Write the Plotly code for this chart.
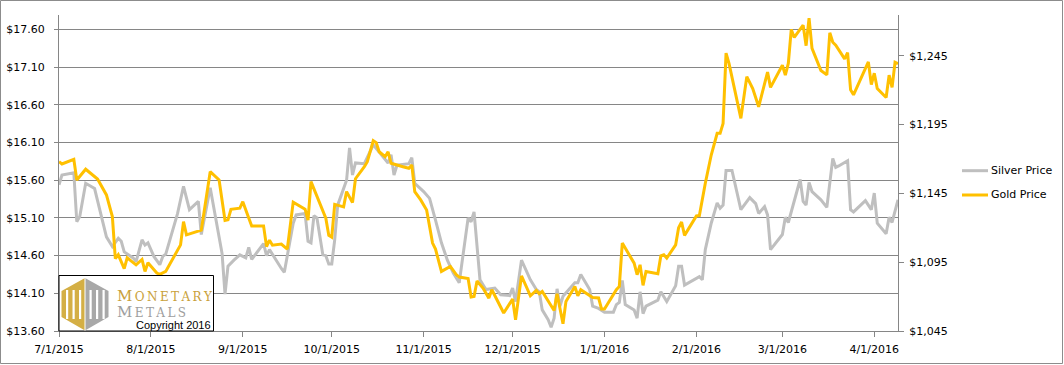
import plotly.graph_objects as go

# ---------------- data ----------------
silver_dates = [
    "2015-07-01", "2015-07-02", "2015-07-06", "2015-07-07", "2015-07-08", "2015-07-10", "2015-07-13",
    "2015-07-14", "2015-07-15", "2015-07-17", "2015-07-19", "2015-07-21", "2015-07-22", "2015-07-23",
    "2015-07-26", "2015-07-27", "2015-07-29", "2015-07-30", "2015-07-31", "2015-08-02", "2015-08-04",
    "2015-08-05", "2015-08-06", "2015-08-10", "2015-08-12", "2015-08-14", "2015-08-17", "2015-08-18",
    "2015-08-21", "2015-08-23", "2015-08-25", "2015-08-26", "2015-08-27", "2015-08-29", "2015-08-31",
    "2015-09-02", "2015-09-03", "2015-09-04", "2015-09-08", "2015-09-09", "2015-09-10", "2015-09-14",
    "2015-09-15", "2015-09-18", "2015-09-19", "2015-09-22", "2015-09-23", "2015-09-24", "2015-09-25",
    "2015-09-26", "2015-09-28", "2015-09-29", "2015-09-30", "2015-10-01", "2015-10-02", "2015-10-03",
    "2015-10-06", "2015-10-07", "2015-10-08", "2015-10-09", "2015-10-12", "2015-10-15", "2015-10-17",
    "2015-10-20", "2015-10-21", "2015-10-22", "2015-10-23", "2015-10-27", "2015-10-28", "2015-10-29",
    "2015-11-01", "2015-11-03", "2015-11-05", "2015-11-07", "2015-11-09", "2015-11-11", "2015-11-13",
    "2015-11-16", "2015-11-17", "2015-11-18", "2015-11-20", "2015-11-22", "2015-11-25", "2015-11-27",
    "2015-11-30", "2015-12-01", "2015-12-02", "2015-12-04", "2015-12-07", "2015-12-09", "2015-12-10",
    "2015-12-11", "2015-12-13", "2015-12-14", "2015-12-15", "2015-12-16", "2015-12-17", "2015-12-18",
    "2015-12-22", "2015-12-23", "2015-12-24", "2015-12-27", "2015-12-28", "2015-12-30", "2016-01-01",
    "2016-01-04", "2016-01-05", "2016-01-06", "2016-01-07", "2016-01-08", "2016-01-11", "2016-01-12",
    "2016-01-13", "2016-01-14", "2016-01-15", "2016-01-19", "2016-01-20", "2016-01-22", "2016-01-25",
    "2016-01-26", "2016-01-27", "2016-01-28", "2016-02-02", "2016-02-03", "2016-02-04", "2016-02-06",
    "2016-02-08", "2016-02-09", "2016-02-10", "2016-02-11", "2016-02-13", "2016-02-16", "2016-02-19",
    "2016-02-21", "2016-02-22", "2016-02-24", "2016-02-25", "2016-02-26", "2016-03-01", "2016-03-02",
    "2016-03-03", "2016-03-05", "2016-03-07", "2016-03-08", "2016-03-09", "2016-03-10", "2016-03-11",
    "2016-03-14", "2016-03-16", "2016-03-18", "2016-03-19", "2016-03-20", "2016-03-23", "2016-03-24",
    "2016-03-25", "2016-03-29", "2016-03-31", "2016-04-01", "2016-04-02", "2016-04-05", "2016-04-06",
    "2016-04-07", "2016-04-09",
]
silver_price = [
    15.54, 15.67, 15.70, 15.05, 15.12, 15.56, 15.49,
    15.34, 15.16, 14.85, 14.72, 14.83, 14.79, 14.65,
    14.57, 14.52, 14.81, 14.74, 14.77, 14.59, 14.48,
    14.59, 14.62, 15.16, 15.52, 15.21, 15.32, 14.88,
    15.50, 15.07, 14.63, 14.09, 14.46, 14.54, 14.61,
    14.57, 14.71, 14.55, 14.76, 14.60, 14.68, 14.43,
    14.38, 15.03, 15.14, 15.16, 14.79, 14.77, 15.13,
    15.10, 14.61, 14.60, 14.49, 14.49, 14.81, 15.27,
    15.60, 16.03, 15.67, 15.83, 15.82, 16.07, 15.98,
    15.83, 15.94, 15.67, 15.80, 15.82, 15.90, 15.56,
    15.45, 15.36, 15.07, 14.77, 14.54, 14.37, 14.24,
    15.10, 15.05, 15.18, 14.28, 14.15, 14.17, 14.08,
    14.07, 14.17, 13.99, 14.54, 14.28, 14.15, 14.12,
    13.88, 13.75, 13.65, 13.77, 14.16, 13.93, 14.06,
    14.24, 14.24, 14.35, 14.15, 13.93, 13.90, 13.85,
    13.85, 13.95, 13.98, 14.27, 13.95, 13.88, 13.77,
    14.12, 13.83, 13.93, 14.01, 14.12, 13.99, 14.20,
    14.46, 14.46, 14.21, 14.32, 14.28, 14.68, 15.03,
    15.30, 15.23, 15.27, 15.73, 15.73, 15.21, 15.37,
    15.29, 15.16, 15.25, 15.14, 14.68, 14.88, 15.11,
    15.04, 15.32, 15.61, 15.32, 15.27, 15.57, 15.45,
    15.34, 15.24, 15.89, 15.77, 15.79, 15.86, 15.21,
    15.18, 15.33, 15.21, 15.43, 15.03, 14.89, 15.11,
    15.04, 15.34,
]

gold_dates = [
    "2015-07-01", "2015-07-02", "2015-07-06", "2015-07-07", "2015-07-10", "2015-07-14", "2015-07-17",
    "2015-07-19", "2015-07-20", "2015-07-21", "2015-07-23", "2015-07-24", "2015-07-27", "2015-07-29",
    "2015-07-30", "2015-07-31", "2015-08-03", "2015-08-04", "2015-08-06", "2015-08-11", "2015-08-12",
    "2015-08-13", "2015-08-18", "2015-08-21", "2015-08-24", "2015-08-26", "2015-08-27", "2015-08-28",
    "2015-08-31", "2015-09-01", "2015-09-03", "2015-09-04", "2015-09-08", "2015-09-09", "2015-09-10",
    "2015-09-11", "2015-09-14", "2015-09-16", "2015-09-18", "2015-09-22", "2015-09-23", "2015-09-24",
    "2015-09-29", "2015-09-30", "2015-10-01", "2015-10-02", "2015-10-05", "2015-10-06", "2015-10-08",
    "2015-10-09", "2015-10-12", "2015-10-13", "2015-10-15", "2015-10-16", "2015-10-17", "2015-10-19",
    "2015-10-20", "2015-10-21", "2015-10-25", "2015-10-27", "2015-10-28", "2015-10-29", "2015-10-31",
    "2015-11-02", "2015-11-04", "2015-11-05", "2015-11-07", "2015-11-10", "2015-11-12", "2015-11-13",
    "2015-11-16", "2015-11-17", "2015-11-18", "2015-11-19", "2015-11-21", "2015-11-23", "2015-11-24",
    "2015-11-28", "2015-12-01", "2015-12-02", "2015-12-04", "2015-12-07", "2015-12-09", "2015-12-10",
    "2015-12-11", "2015-12-15", "2015-12-16", "2015-12-18", "2015-12-19", "2015-12-22", "2015-12-23",
    "2015-12-24", "2015-12-28", "2015-12-30", "2015-12-31", "2016-01-01", "2016-01-05", "2016-01-06",
    "2016-01-07", "2016-01-11", "2016-01-12", "2016-01-13", "2016-01-14", "2016-01-15", "2016-01-19",
    "2016-01-20", "2016-01-21", "2016-01-22", "2016-01-25", "2016-01-26", "2016-01-27", "2016-01-28",
    "2016-02-01", "2016-02-02", "2016-02-04", "2016-02-06", "2016-02-08", "2016-02-09", "2016-02-10",
    "2016-02-11", "2016-02-12", "2016-02-16", "2016-02-18", "2016-02-20", "2016-02-22", "2016-02-24",
    "2016-02-25", "2016-02-26", "2016-03-01", "2016-03-02", "2016-03-03", "2016-03-04", "2016-03-05",
    "2016-03-08", "2016-03-09", "2016-03-10", "2016-03-11", "2016-03-14", "2016-03-16", "2016-03-17",
    "2016-03-18", "2016-03-19", "2016-03-22", "2016-03-23", "2016-03-24", "2016-03-25", "2016-03-30",
    "2016-03-31", "2016-04-01", "2016-04-02", "2016-04-05", "2016-04-06", "2016-04-07", "2016-04-08",
    "2016-04-09",
]
gold_price = [
    1168.1, 1166.4, 1169.8, 1154.8, 1162.6, 1155.5, 1143.9,
    1128.2, 1097.6, 1100.4, 1090.4, 1098.2, 1093.1, 1097.0,
    1088.3, 1094.6, 1087.1, 1086.2, 1088.3, 1107.6, 1124.5,
    1114.9, 1118.3, 1160.8, 1154.8, 1125.3, 1125.8, 1133.5,
    1134.3, 1139.0, 1127.2, 1121.4, 1121.4, 1106.4, 1111.0,
    1107.4, 1108.2, 1104.5, 1138.7, 1133.6, 1125.6, 1153.6,
    1127.0, 1114.5, 1113.2, 1137.0, 1135.2, 1146.3, 1138.3,
    1155.7, 1164.4, 1168.1, 1183.3, 1181.9, 1175.3, 1171.7,
    1175.3, 1166.9, 1164.4, 1163.3, 1165.7, 1146.3, 1140.3,
    1133.0, 1108.9, 1104.5, 1088.3, 1091.9, 1085.9, 1084.2,
    1083.2, 1069.7, 1070.1, 1081.4, 1076.2, 1068.9, 1075.0,
    1058.1, 1068.2, 1053.2, 1085.1, 1070.6, 1074.5, 1072.1,
    1073.7, 1059.9, 1072.1, 1050.3, 1066.5, 1077.4, 1070.6,
    1075.0, 1069.4, 1069.0, 1061.0, 1061.0, 1075.0, 1077.4,
    1108.9, 1094.3, 1085.9, 1093.1, 1078.2, 1088.3, 1086.6,
    1099.6, 1100.4, 1098.0, 1107.6, 1120.0, 1124.2, 1114.5,
    1128.7, 1128.9, 1152.4, 1172.9, 1188.7, 1188.7, 1195.9,
    1247.0, 1239.5, 1199.6, 1229.9, 1221.3, 1208.0, 1225.4,
    1233.2, 1222.1, 1238.2, 1231.0, 1239.5, 1264.2, 1258.4,
    1267.3, 1252.4, 1272.4, 1250.4, 1234.4, 1231.2, 1261.8,
    1254.9, 1252.8, 1242.8, 1247.3, 1220.4, 1216.7, 1240.6,
    1224.1, 1232.4, 1221.3, 1214.7, 1231.0, 1222.1, 1240.3,
    1239.3,
]

x_tick_vals = ["2015-07-01", "2015-08-01", "2015-09-01", "2015-10-01", "2015-11-01",
               "2015-12-01", "2016-01-01", "2016-02-01", "2016-03-01", "2016-04-01"]
x_tick_text = ["7/1/2015", "8/1/2015", "9/1/2015", "10/1/2015", "11/1/2015",
               "12/1/2015", "1/1/2016", "2/1/2016", "3/1/2016", "4/1/2016"]
silver_ticks = [13.60, 14.10, 14.60, 15.10, 15.60, 16.10, 16.60, 17.10, 17.60]
silver_tick_text = ["$13.60", "$14.10", "$14.60", "$15.10", "$15.60",
                    "$16.10", "$16.60", "$17.10", "$17.60"]
gold_ticks = [1045, 1095, 1145, 1195, 1245]
gold_tick_text = ["$1,045", "$1,095", "$1,145", "$1,195", "$1,245"]

# ---------------- layout constants ----------------
W, H = 1064, 365
ML, MR, MT, MB = 59, 166, 15, 34
PW, PH = W - ML - MR, H - MT - MB

def px(x):
    return (x - ML) / PW

def py(y):
    return (H - MB - y) / PH

AX = "#868686"
SILVER = "#BFBFBF"
GOLD = "#FFC000"
FONT = dict(family="DejaVu Sans", size=11, color="#000000")

fig = go.Figure()
fig.add_trace(go.Scatter(x=silver_dates, y=silver_price, name="Silver Price", mode="lines",
                         line=dict(color=SILVER, width=3), yaxis="y"))
fig.add_trace(go.Scatter(x=gold_dates, y=gold_price, name="Gold Price", mode="lines",
                         line=dict(color=GOLD, width=3), yaxis="y2"))

fig.update_layout(
    width=W, height=H,
    margin=dict(l=ML, r=MR, t=MT, b=MB, pad=0, autoexpand=False),
    paper_bgcolor="white", plot_bgcolor="white",
    font=FONT,
    showlegend=False,
    xaxis=dict(type="date", range=["2015-07-01", "2016-04-09"],
               tickvals=x_tick_vals, ticktext=x_tick_text,
               showgrid=False, zeroline=False, automargin=False,
               showline=True, linecolor=AX, linewidth=1,
               ticks="outside", ticklen=5, tickcolor=AX, tickwidth=1,
               ticklabelstandoff=3, tickfont=FONT),
    yaxis=dict(range=[13.6, 17.793], tickvals=silver_ticks, ticktext=silver_tick_text,
               showgrid=True, gridcolor=AX, gridwidth=1, zeroline=False, automargin=False,
               showline=True, linecolor=AX, linewidth=1,
               ticks="outside", ticklen=4, tickcolor=AX,
               ticklabelstandoff=7, tickfont=FONT),
    yaxis2=dict(range=[1045, 1274.7], tickvals=gold_ticks, ticktext=gold_tick_text,
                overlaying="y", side="right",
                showgrid=False, zeroline=False, automargin=False,
                showline=True, linecolor=AX, linewidth=1,
                ticks="outside", ticklen=5, tickcolor=AX,
                ticklabelstandoff=3, tickfont=FONT),
)

shapes = []
anns = []

# chart-area border
shapes.append(dict(type="rect", xref="paper", yref="paper",
                   x0=px(0.5), x1=px(W - 1.5), y0=py(H - 1.5), y1=py(0.5),
                   line=dict(color="#8C8C8C", width=1), fillcolor="rgba(0,0,0,0)", layer="above"))

# manual legend
for label, color, yy in [("Silver Price", SILVER, 170.7), ("Gold Price", GOLD, 195.0)]:
    shapes.append(dict(type="line", xref="paper", yref="paper",
                       x0=px(962), x1=px(988), y0=py(yy), y1=py(yy),
                       line=dict(color=color, width=3)))
    anns.append(dict(text=label, xref="paper", yref="paper", x=px(989), y=py(yy),
                     xanchor="left", yanchor="middle", showarrow=False, font=FONT))

# logo box
shapes.append(dict(type="rect", xref="paper", yref="paper",
                   x0=px(59), x1=px(213.5), y0=py(331), y1=py(275.5),
                   line=dict(color="#000000", width=1), fillcolor="white", layer="above"))

LOGO_GOLD = "#D4AF45"
LOGO_GRAY = "#A8A8A8"
cx, lx, rx = 85.0, 61.5, 108.5
ty, uy, ly, by = 278.0, 291.0, 317.0, 330.5

def path(points):
    return "M " + " L ".join(f"{px(a):.5f},{py(b):.5f}" for a, b in points) + " Z"

shapes.append(dict(type="path", xref="paper", yref="paper", layer="above",
                   path=path([(cx, ty), (lx, uy), (lx, ly), (cx, by)]),
                   fillcolor=LOGO_GOLD, line=dict(width=0)))
shapes.append(dict(type="path", xref="paper", yref="paper", layer="above",
                   path=path([(cx, ty), (rx, uy), (rx, ly), (cx, by)]),
                   fillcolor=LOGO_GRAY, line=dict(width=0)))
# white inner slots forming the pillars
for x0 in [66.0, 72.5, 79.0, 89.5, 96.0, 102.5]:
    shapes.append(dict(type="rect", xref="paper", yref="paper", layer="above",
                       x0=px(x0), x1=px(x0 + 2.2), y0=py(319), y1=py(290),
                       fillcolor="white", line=dict(width=0)))
shapes.append(dict(type="line", xref="paper", yref="paper", layer="above",
                   x0=px(cx), x1=px(cx), y0=py(by), y1=py(ty),
                   line=dict(color="white", width=1)))

TS = "\u2009"
anns.append(dict(text='M<span style="font-size:12px">' + TS + TS.join("ONETARY") + '</span>',
                 xref="paper", yref="paper", borderpad=0,
                 x=px(116), y=py(296), xanchor="left", yanchor="middle", showarrow=False,
                 font=dict(family="DejaVu Serif", size=15, color="#C9A13B")))
anns.append(dict(text='M<span style="font-size:12px">' + TS + TS.join("ETALS") + '</span>',
                 xref="paper", yref="paper", borderpad=0,
                 x=px(116), y=py(312), xanchor="left", yanchor="middle", showarrow=False,
                 font=dict(family="DejaVu Serif", size=15, color="#9E9E9E")))
anns.append(dict(text="Copyright 2016", xref="paper", yref="paper", borderpad=0,
                 x=px(135), y=py(324.5), xanchor="left", yanchor="middle", showarrow=False,
                 font=dict(family="Liberation Sans", size=11, color="#000000")))

fig.update_layout(shapes=shapes, annotations=anns)
fig.write_html("out.html", config={"displayModeBar": False},
               post_script="document.body.style.margin='0';document.body.style.padding='0';")
